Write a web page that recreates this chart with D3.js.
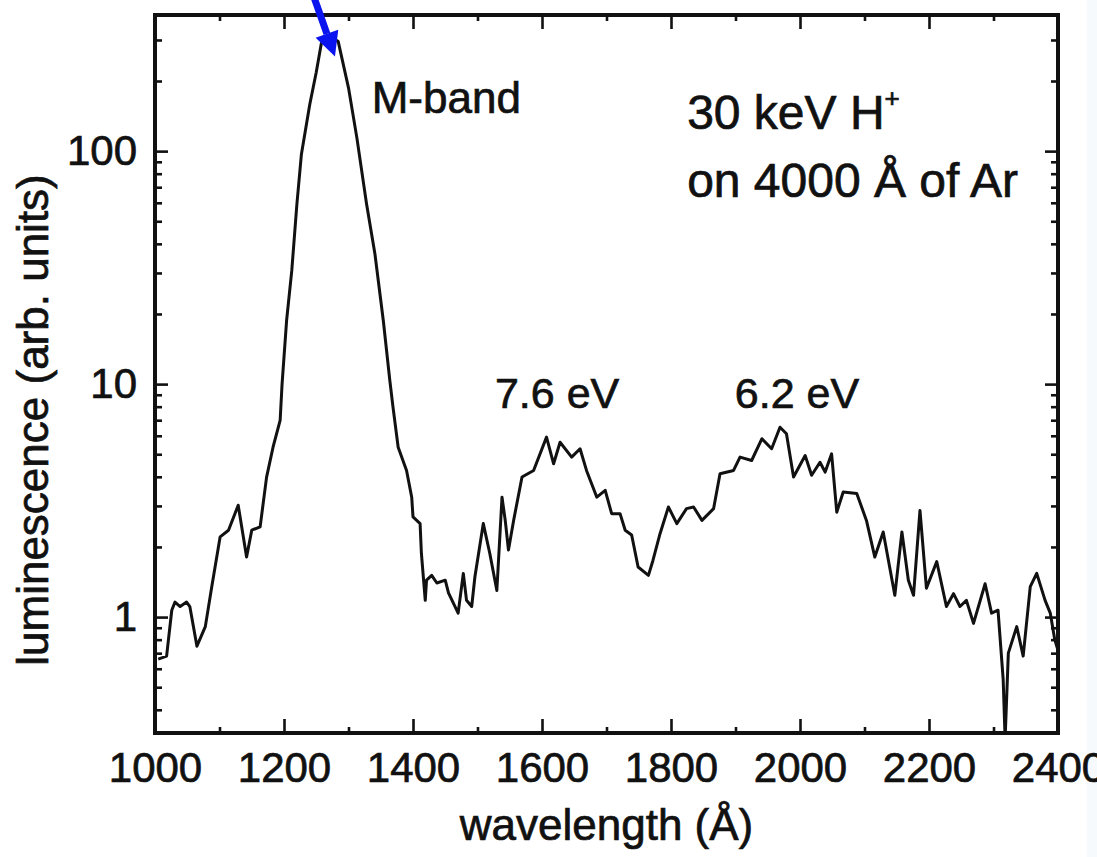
<!DOCTYPE html>
<html>
<head>
<meta charset="utf-8">
<script src="https://cdn.jsdelivr.net/npm/d3@7"></script>
<style>
  body { margin: 0; background: #fff; }
  svg { display: block; overflow: visible; }
  text { font-family: "Liberation Sans", Arial, Helvetica, sans-serif; fill: #111; stroke: #111; stroke-width: 0.7px; }
</style>
</head>
<body>
<div id="chart"></div>
<script>
// spectrum
var wavelength = [1005,1018,1026,1031,1039,1049,1054,1065,1078,1088,1101,1114,1129,1142,1150,1163,1173,1183,1194,1197,
  1204,1212,1220,1227,1240,1250,1258,1270,1284,1300,1313,1328,1341,1354,1364,1369,1377,1390,1398,
  1400,1411,1413,1419,1421,1429,1437,1450,1455,1470,1478,1483,1491,1496,1509,1519,1530,1538,1543,1548,
  1556,1569,1587,1607,1618,1628,1646,1659,1669,1685,1698,1708,1721,1729,1739,1749,1765,1772,1783,1796,
  1809,1824,1835,1848,1866,1876,1897,1907,1925,1941,1956,1969,1979,1990,2008,2018,2031,2039,2049,2057,
  2067,2088,2103,2116,2129,2147,2158,2168,2176,2186,2196,2212,2227,2238,2248,2258,2269,2287,2297,2307,
  2315,2318,2323,2336,2346,2357,2367,2380,2388,2395,2400];
var luminescence = [0.66,0.68,1.07,1.16,1.11,1.16,1.11,0.75,0.91,1.35,2.21,2.36,3.02,1.81,2.36,2.44,3.99,5.36,6.98,10.0,
  18.7,30.6,59.3,97,159,218,291,310,296,187,114,59.3,36.2,18.7,10.4,7.96,5.36,4.26,3.27,
  2.69,2.52,1.88,1.18,1.44,1.51,1.40,1.44,1.27,1.04,1.54,1.18,1.11,1.49,2.52,1.88,1.30,3.27,2.60,1.94,
  2.60,3.99,4.26,5.92,4.55,5.63,4.86,5.28,4.26,3.27,3.50,2.78,2.78,2.36,2.25,1.64,1.51,1.75,2.28,2.97,
  2.52,2.92,2.97,2.60,2.92,4.12,4.26,4.86,4.70,5.83,5.28,6.53,6.12,3.99,4.94,4.06,4.62,4.19,5.02,2.82,
  3.44,3.39,2.60,1.81,2.32,1.24,2.32,1.44,1.24,2.87,1.33,1.73,1.11,1.26,1.11,1.18,0.94,1.39,1.04,1.07,
  0.54,0.30,0.70,0.91,0.68,1.35,1.54,1.18,1.04,0.80,0.72];

// axis ticks
var xMajorTicks = [1000,1200,1400,1600,1800,2000,2200,2400];
var xMinorTicks = [1100,1300,1500,1700,1900,2100,2300];
var yMajorTicks = [1,10,100];
var yMinorTicks = [0.4,0.5,0.6,0.7,0.8,0.9,2,3,4,5,6,7,8,9,20,30,40,50,60,70,80,90,200,300];

var width = 1097, height = 857;
var margin = {top: 15, left: 155, right: 39, bottom: 124};
var w = width - margin.left - margin.right,
    h = height - margin.top - margin.bottom;

var svg = d3.select("#chart").append("svg")
    .attr("width", width).attr("height", height);

//faint scan strip at the right edge
svg.append("rect").attr("x", 1087).attr("y", 0).attr("width", 10).attr("height", height)
    .attr("fill", "#f6fafd");

var g = svg.append("g").attr("transform", "translate(" + margin.left + "," + margin.top + ")");

var x = d3.scaleLinear().domain([1000, 2400]).range([0, w]);
var y = d3.scaleLog().domain([0.318, 384]).range([h, 0]);

g.append("clipPath").attr("id", "plot").append("rect")
    .attr("width", w).attr("height", h);

//curve
var pts = d3.zip(wavelength, luminescence);
var line = d3.line().x(function(d) { return x(d[0]); }).y(function(d) { return y(d[1]); });
g.append("path").datum(pts)
    .attr("clip-path", "url(#plot)")
    .attr("d", line)
    .attr("fill", "none")
    .attr("stroke", "#111")
    .attr("stroke-width", 3)
    .attr("stroke-linejoin", "round");

//axes, ticks pointing inward on all four sides
function styleAxis(sel, fs) {
    sel.select(".domain").remove();
    sel.selectAll("line").attr("stroke", "#111").attr("stroke-width", 2.6);
    sel.selectAll("text").attr("font-size", fs).attr("fill", "#111");
}
var fmt = d3.format("d");
g.append("g").attr("transform", "translate(0," + h + ")")
    .call(d3.axisBottom(x).tickValues(xMajorTicks).tickFormat(fmt).tickSize(-14).tickPadding(19))
    .call(styleAxis, 42);
g.append("g").attr("transform", "translate(0," + h + ")")
    .call(d3.axisBottom(x).tickValues(xMinorTicks).tickFormat("").tickSize(-6))
    .call(styleAxis, 0);
g.append("g")
    .call(d3.axisTop(x).tickValues(xMajorTicks).tickFormat("").tickSize(-14))
    .call(styleAxis, 0);
g.append("g")
    .call(d3.axisTop(x).tickValues(xMinorTicks).tickFormat("").tickSize(-6))
    .call(styleAxis, 0);

g.append("g")
    .call(d3.axisLeft(y).tickValues(yMajorTicks).tickFormat(fmt).tickSize(-13).tickPadding(18))
    .call(styleAxis, 42);
g.append("g")
    .call(d3.axisLeft(y).tickValues(yMinorTicks).tickFormat("").tickSize(-7))
    .call(styleAxis, 0);
g.append("g").attr("transform", "translate(" + w + ",0)")
    .call(d3.axisRight(y).tickValues(yMajorTicks).tickFormat("").tickSize(-13))
    .call(styleAxis, 0);
g.append("g").attr("transform", "translate(" + w + ",0)")
    .call(d3.axisRight(y).tickValues(yMinorTicks).tickFormat("").tickSize(-7))
    .call(styleAxis, 0);

//frame
g.append("rect").attr("width", w).attr("height", h)
    .attr("fill", "none").attr("stroke", "#111").attr("stroke-width", 4);

//axis titles
g.append("text")
    .attr("x", x(1700)).attr("y", h + 107)
    .attr("text-anchor", "middle").attr("font-size", 44)
    .text("wavelength (Å)");
g.append("text")
    .attr("transform", "translate(" + (-107) + "," + (405) + ") rotate(-90)")
    .attr("text-anchor", "middle").attr("font-size", 44)
    .text("luminescence (arb. units)");

//annotations
g.append("text").attr("x", x(1336)).attr("y", y(146)).attr("font-size", 44).text("M-band");
g.append("text").attr("x", x(1527)).attr("y", y(7.9)).attr("font-size", 43).text("7.6 eV");
g.append("text").attr("x", x(1899)).attr("y", y(7.9)).attr("font-size", 43).text("6.2 eV");
var t1 = g.append("text").attr("x", x(1825)).attr("y", y(125)).attr("font-size", 48).text("30 keV H");
t1.append("tspan").attr("font-size", 26).attr("dy", -22).text("+");
g.append("text").attr("x", x(1825)).attr("y", y(63.5)).attr("font-size", 48).text("on 4000 Å of Ar");

//blue arrow pointing at the M-band peak
var tail = [x(1245), y(470)], tip = [x(1279), y(255)];
var dx = tip[0] - tail[0], dy = tip[1] - tail[1], len = Math.sqrt(dx * dx + dy * dy);
var ux = dx / len, uy = dy / len;
var headLen = 24, headW = 12;
var base = [tip[0] - ux * headLen, tip[1] - uy * headLen];
g.append("line")
    .attr("x1", tail[0]).attr("y1", tail[1]).attr("x2", base[0]).attr("y2", base[1])
    .attr("stroke", "#0a14ee").attr("stroke-width", 7);
g.append("polygon")
    .attr("points", [tip, [base[0] - uy * headW, base[1] + ux * headW], [base[0] + uy * headW, base[1] - ux * headW]]
        .map(function(p) { return p.join(","); }).join(" "))
    .attr("fill", "#0a14ee");
</script>
</body>
</html>
